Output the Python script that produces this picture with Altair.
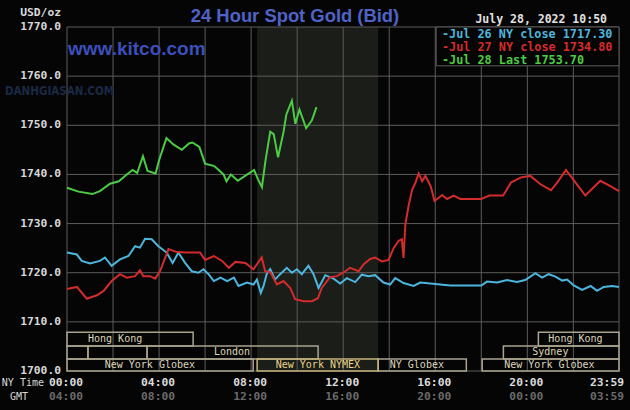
import altair as alt
import pandas as pd

# ---------------- data (hours in NY time, price USD/oz) ----------------
blue_h = [0.0, 0.43, 0.64, 1.0, 1.43, 1.65, 1.94, 2.3, 2.67, 2.96, 3.17, 3.39, 3.68, 3.97, 4.33, 4.59,
          4.84, 5.13, 5.42, 5.71, 5.93, 6.15, 6.38, 6.67, 6.96, 7.25, 7.45, 7.82, 8.1, 8.25, 8.42, 8.54,
          8.68, 8.83, 9.04, 9.26, 9.55, 9.77, 9.99, 10.2, 10.49, 10.71, 10.93, 11.22, 11.58, 11.87,
          12.16, 12.52, 12.81, 13.1, 13.39, 13.75, 14.04, 14.26, 14.62, 15.06, 15.35, 16.0, 16.65,
          17.09, 18.0, 18.25, 18.68, 19.12, 19.55, 19.91, 20.35, 20.64, 20.93, 21.22, 21.52, 21.73,
          22.02, 22.38, 22.75, 23.03, 23.32, 23.68, 23.98]
blue_v = [1724.1, 1723.7, 1722.4, 1721.9, 1722.4, 1723.1, 1721.4, 1722.7, 1723.4, 1725.4, 1725.1,
          1726.9, 1726.8, 1725.4, 1724.1, 1722.0, 1724.1, 1722.0, 1720.3, 1720.0, 1720.7, 1719.7,
          1718.3, 1719.0, 1718.3, 1719.0, 1717.3, 1718.0, 1717.6, 1718.6, 1715.9, 1717.3, 1719.8,
          1720.7, 1718.6, 1719.7, 1721.0, 1720.0, 1720.7, 1719.7, 1721.4, 1719.7, 1716.9, 1719.5,
          1718.8, 1717.8, 1718.9, 1718.1, 1719.6, 1719.3, 1719.5, 1718.0, 1717.6, 1718.9, 1717.9,
          1717.3, 1718.0, 1717.7, 1717.4, 1717.4, 1717.4, 1718.2, 1718.0, 1718.5, 1718.1, 1718.5,
          1719.9, 1719.0, 1719.7, 1719.2, 1718.4, 1718.6, 1717.4, 1716.5, 1717.3, 1716.3, 1717.1,
          1717.3, 1717.1]

red_h = [0.0, 0.43, 0.86, 1.3, 1.59, 1.94, 2.3, 2.6, 2.96, 3.17, 3.32, 3.61, 3.83, 4.04, 4.41, 4.77,
         5.2, 5.78, 6.0, 6.38, 6.74, 7.03, 7.32, 7.75, 8.1, 8.46, 8.61, 8.83, 9.12, 9.41, 9.7, 9.91,
         10.28, 10.64, 10.9, 11.07, 11.43, 11.72, 12.0, 12.3, 12.67, 12.88, 13.17, 13.39, 13.68,
         13.97, 14.19, 14.41, 14.55, 14.62, 14.7, 14.84, 14.99, 15.13, 15.28, 15.43, 15.57, 15.8,
         15.97, 16.3, 16.51, 16.8, 17.09, 18.0, 18.35, 18.95, 19.3, 19.73, 20.13, 20.57, 21.03,
         21.29, 21.68, 22.12, 22.52, 23.17, 23.61, 23.98]
red_v = [1716.7, 1717.1, 1714.7, 1715.4, 1716.3, 1718.3, 1719.7, 1719.0, 1719.3, 1720.5, 1719.3,
         1719.3, 1718.8, 1720.3, 1724.8, 1724.2, 1724.1, 1724.1, 1722.6, 1723.4, 1722.4, 1721.0,
         1722.2, 1722.0, 1720.7, 1723.1, 1720.3, 1720.1, 1717.6, 1718.3, 1716.9, 1714.6, 1714.2,
         1714.2, 1714.8, 1716.9, 1719.1, 1719.3, 1720.0, 1721.0, 1720.3, 1721.7, 1722.8, 1723.1,
         1722.3, 1722.6, 1725.0, 1726.5, 1726.8, 1723.0, 1729.8, 1733.6, 1736.8, 1738.2, 1740.2,
         1738.6, 1739.7, 1737.6, 1734.6, 1735.8, 1735.0, 1735.7, 1735.0, 1735.0, 1735.7, 1735.7,
         1738.4, 1739.4, 1739.7, 1738.0, 1736.8, 1738.3, 1740.9, 1738.2, 1735.7, 1738.7, 1737.6,
         1736.6]

green_h = [0.0, 0.5, 1.1, 1.43, 1.87, 2.25, 2.6, 2.85, 3.05, 3.3, 3.5, 3.85, 4.0, 4.32, 4.62, 4.99,
           5.3, 5.45, 5.75, 6.0, 6.4, 6.8, 6.93, 7.12, 7.42, 7.77, 8.13, 8.3, 8.47, 8.62, 8.83, 8.98,
           9.17, 9.41, 9.53, 9.77, 9.92, 10.1, 10.39, 10.64, 10.84]
green_v = [1737.3, 1736.5, 1736.0, 1736.6, 1738.1, 1738.6, 1740.0, 1740.9, 1740.3, 1743.7, 1740.7,
           1740.2, 1742.9, 1747.4, 1746.1, 1745.0, 1746.3, 1746.5, 1745.6, 1742.2, 1741.7, 1740.0,
           1738.6, 1740.0, 1738.7, 1739.8, 1740.9, 1739.0, 1737.4, 1742.7, 1748.7, 1748.2, 1743.5,
           1748.7, 1752.2, 1755.0, 1750.3, 1753.2, 1749.4, 1751.0, 1753.7]

series_names = ["Jul 26", "Jul 27", "Jul 28"]
series_colors = ["#4cb6de", "#d42c2c", "#4ccc44"]
legend_labels = ["-Jul 26 NY close 1717.30", "-Jul 27 NY close 1734.80", "-Jul 28 Last 1753.70"]

x_end = 23.983
tick_hours = [0, 4, 8, 12, 16, 20]
ny_labels = ["00:00", "04:00", "08:00", "12:00", "16:00", "20:00"]
gmt_labels = ["04:00", "08:00", "12:00", "16:00", "20:00", "00:00"]
last_ny_label = "23:59"
last_gmt_label = "03:59"
grid_hours = [0, 2, 4, 6, 8, 10, 12, 14, 16, 18, 20, 22, x_end]
price_ticks = [1700, 1710, 1720, 1730, 1740, 1750, 1760, 1770]

nymex_start, nymex_end = 8.26, 13.52

# trading-session boxes
sess_label = ["Hong Kong", "", "", "London", "New York Globex", "New York NYMEX", "NY Globex",
              "Hong Kong", "Sydney", "New York Globex"]
sess_start = [0.0, 0.0, 0.91, 3.48, 0.0, 8.26, 13.52, 20.48, 18.96, 18.04]
sess_end = [5.48, 0.91, 3.48, 10.91, 8.09, 13.52, 17.35, x_end, x_end, x_end]
sess_row = [0, 1, 1, 1, 2, 2, 2, 0, 1, 2]
sess_text_h = [2.09, 0.45, 2.2, 7.17, 3.6, 10.9, 15.2, 22.09, 21.0, 20.96]
sess_kind = ["std", "std", "std", "std", "std", "nymex", "std", "std", "std", "std"]
row_top = [1707.9, 1705.1, 1702.45]
row_bot = [1705.1, 1702.45, 1700.0]

# ---------------- styling ----------------
MONO = "DejaVu Sans Mono"
BG = "#050505"
GRID = "#5c5c5c"
PLOT_H = 344

xs = alt.Scale(domain=[0, x_end], nice=False, zero=False)
ys = alt.Scale(domain=[1700, 1770], nice=False, zero=False)


def X(f):
    return alt.X(f, type="quantitative", scale=xs, axis=None)


def Y(f):
    return alt.Y(f, type="quantitative", scale=ys, axis=None)


# ---------------- tables ----------------
sess_df = pd.DataFrame({
    "label": sess_label, "h1": sess_start, "h2": sess_end,
    "v1": [row_top[r] for r in sess_row], "v2": [row_bot[r] for r in sess_row],
    "vt": [(row_top[r] + row_bot[r]) / 2 for r in sess_row],
    "th": sess_text_h, "kind": sess_kind,
})
tick_df = pd.DataFrame({"h": tick_hours, "ny": ny_labels, "gmt": gmt_labels})
last_df = pd.DataFrame({"h": [x_end], "ny": [last_ny_label], "gmt": [last_gmt_label]})
ylab_df = pd.DataFrame({"v": price_ticks, "t": [f"{p:.1f}" for p in price_ticks]})

# ---------------- layers ----------------
shade = alt.Chart(pd.DataFrame({"h1": [nymex_start], "h2": [nymex_end]})).mark_rect(
    color="#1b1d19").encode(x=X("h1"), x2="h2")

vgrid = alt.Chart(pd.DataFrame({"h": grid_hours})).mark_rule(
    color=GRID, strokeWidth=1).encode(x=X("h"))
hgrid = alt.Chart(pd.DataFrame({"v": price_ticks})).mark_rule(
    color=GRID, strokeWidth=1).encode(y=Y("v"))

sess_layers = []
for kind, box_col, txt_col in [("std", "#aaa490", "#ddd6bc"), ("nymex", "#c4b47a", "#e8d488")]:
    sub = sess_df[sess_df["kind"] == kind]
    sess_layers.append(alt.Chart(sub).mark_rect(
        fillOpacity=0, stroke=box_col, strokeWidth=1.5).encode(
        x=X("h1"), x2="h2", y=Y("v1"), y2="v2"))
    sess_layers.append(alt.Chart(sub).mark_text(
        font=MONO, fontSize=10, baseline="middle", color=txt_col).encode(
        x=X("th"), y=Y("vt"), text="label:N"))

line_layers = []
for hs, vs, col in [(blue_h, blue_v, series_colors[0]), (red_h, red_v, series_colors[1]),
                    (green_h, green_v, series_colors[2])]:
    line_layers.append(alt.Chart(pd.DataFrame({"h": hs, "v": vs})).mark_line(
        strokeWidth=2, color=col).encode(x=X("h"), y=Y("v")))

legend_box = alt.Chart(pd.DataFrame({"h1": [16.04], "h2": [x_end], "v1": [1762.1], "v2": [1770]})).mark_rect(
    fill=BG, stroke=GRID, strokeWidth=1).encode(x=X("h1"), x2="h2", y=Y("v1"), y2="v2")

legend_txt = [
    alt.Chart(pd.DataFrame({"t": [legend_labels[i]]})).mark_text(
        font=MONO, fontSize=11.8, fontWeight="bold", align="left", baseline="middle",
        color=series_colors[i]).encode(text="t:N", x=alt.value(375), y=alt.value(yy))
    for i, yy in enumerate([7, 20, 33])
]

ylabels = alt.Chart(ylab_df).mark_text(
    font=MONO, fontSize=11.3, fontWeight="bold", align="right", baseline="middle",
    color="#d8d8d8").encode(y=Y("v"), x=alt.value(-6), text="t:N")

NY_Y = PLOT_H + 12
GMT_Y = PLOT_H + 26
ny_txt = alt.Chart(tick_df).mark_text(
    font=MONO, fontSize=11.3, fontWeight="bold", baseline="middle", color="#dcdcdc", dx=-1
).encode(x=X("h"), y=alt.value(NY_Y), text="ny:N")
gmt_txt = alt.Chart(tick_df).mark_text(
    font=MONO, fontSize=11.3, fontWeight="bold", baseline="middle", color="#6a6a6a", dx=-1
).encode(x=X("h"), y=alt.value(GMT_Y), text="gmt:N")
ny_last = alt.Chart(last_df).mark_text(
    font=MONO, fontSize=11.3, fontWeight="bold", baseline="middle", align="right",
    color="#dcdcdc", dx=5).encode(x=X("h"), y=alt.value(NY_Y), text="ny:N")
gmt_last = alt.Chart(last_df).mark_text(
    font=MONO, fontSize=11.3, fontWeight="bold", baseline="middle", align="right",
    color="#6a6a6a", dx=5).encode(x=X("h"), y=alt.value(GMT_Y), text="gmt:N")


def label(txt, x, y, **kw):
    return alt.Chart(pd.DataFrame({"t": [txt]})).mark_text(baseline="middle", **kw).encode(
        text="t:N", x=alt.value(x), y=alt.value(y))


title = label("24 Hour Spot Gold (Bid)", 228, -11, font="Liberation Sans", fontSize=18.4,
              fontWeight="bold", color="#4f63c8", align="center")
usd = label("USD/oz", -6, -14, font=MONO, fontSize=11.3, fontWeight="bold",
            color="#d8d8d8", align="right")
date = label("July 28, 2022 10:50", 540, -7, font=MONO, fontSize=11.5, fontWeight="bold",
             color="#e0e0e0", align="right")
nytime = label("NY Time", -23, NY_Y, font=MONO, fontSize=10, color="#d8d8d8", align="right")
gmt = label("GMT", -39, GMT_Y, font=MONO, fontSize=10, color="#d8d8d8", align="right")
kitco = label("www.kitco.com", 1, 22, font="Liberation Sans", fontSize=19, fontWeight="bold",
              color="#3c50bc", align="left")
dgs = label("DANHGIASAN.COM", -62, 65, font="DejaVu Sans Condensed", fontSize=11.5,
            fontWeight="bold", color="#1a2944", align="left")

chart = alt.layer(
    shade, vgrid, hgrid, dgs, *sess_layers, kitco, *line_layers, legend_box, *legend_txt,
    ylabels, ny_txt, gmt_txt, ny_last, gmt_last, title, usd, date, nytime, gmt,
).properties(
    width=552, height=PLOT_H,
    autosize=alt.AutoSizeParams(type="none"),
    padding={"left": 67, "top": 27, "right": 11, "bottom": 39},
    background=BG,
).configure_view(stroke=None)

chart.save("out.html", embed_options={"renderer": "svg", "actions": False})
